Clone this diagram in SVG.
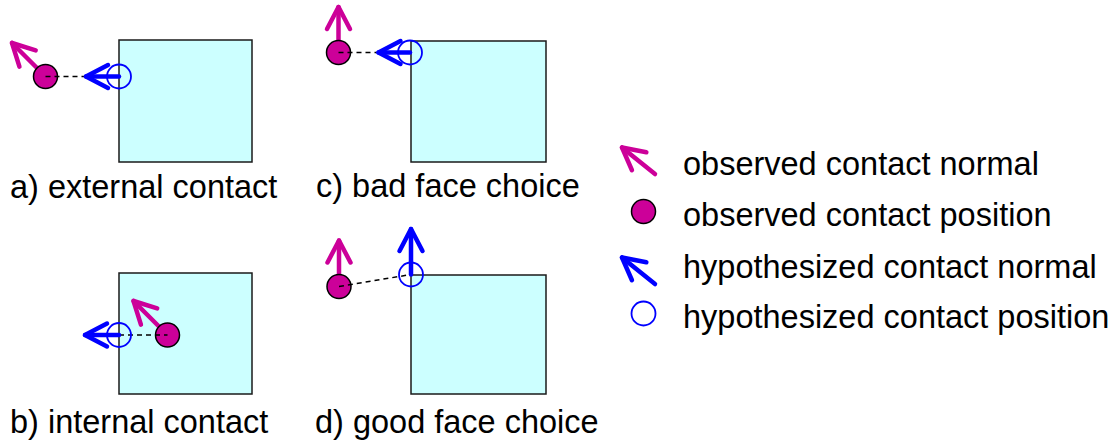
<svg xmlns="http://www.w3.org/2000/svg" width="1114" height="442" viewBox="0 0 1114 442">
  <style>
    .box { fill: #ccffff; stroke: #1a1a1a; stroke-width: 1.5; }
    .obs-n { stroke: #cc0099; stroke-width: 4.5; fill: none; stroke-linecap: round; }
    .hyp-n { stroke: #0000ff; stroke-width: 4.5; fill: none; stroke-linecap: round; }
    .obs-p { fill: #cc0099; stroke: #000; stroke-width: 1.5; }
    .hyp-p { fill: none; stroke: #0000ff; stroke-width: 1.8; }
    .link { stroke: #000; stroke-width: 1.5; stroke-dasharray: 5 4; fill: none; }
    text { font-family: "Liberation Sans", Arial, sans-serif; font-size: 32.5px; fill: #000; }
  </style>
  <defs>
    <marker id="headObs" markerUnits="userSpaceOnUse" markerWidth="40" markerHeight="40" refX="25" refY="15" orient="auto" overflow="visible">
      <path d="M3,3.5 L25,15 L3,26.5" fill="none" stroke="#cc0099" stroke-width="4.5" stroke-linecap="round" stroke-linejoin="round"/>
    </marker>
    <marker id="headHyp" markerUnits="userSpaceOnUse" markerWidth="40" markerHeight="40" refX="25" refY="15" orient="auto" overflow="visible">
      <path d="M3,3.5 L25,15 L3,26.5" fill="none" stroke="#0000ff" stroke-width="4.5" stroke-linecap="round" stroke-linejoin="round"/>
    </marker>
  </defs>

  <!-- a) external contact -->
  <g id="panel-a">
    <rect class="box" x="119" y="40" width="133" height="122"/>
    <line class="obs-n" x1="45.5" y1="76.5" x2="12" y2="43" marker-end="url(#headObs)"/>
    <circle class="obs-p" cx="45.5" cy="76.5" r="12"/>
    <line class="link" x1="45.5" y1="76.5" x2="119" y2="76.5"/>
    <line class="hyp-n" x1="119" y1="76.5" x2="86" y2="76.5" marker-end="url(#headHyp)"/>
    <circle class="hyp-p" cx="119" cy="76.5" r="12"/>
    <text x="10" y="198">a) external contact</text>
  </g>

  <!-- c) bad face choice -->
  <g id="panel-c">
    <rect class="box" x="411" y="41" width="135" height="121"/>
    <line class="obs-n" x1="338.5" y1="52.5" x2="338.5" y2="7" marker-end="url(#headObs)"/>
    <circle class="obs-p" cx="338.5" cy="52.5" r="12"/>
    <line class="link" x1="338.5" y1="52.5" x2="410" y2="52.5"/>
    <line class="hyp-n" x1="410" y1="52.5" x2="378.5" y2="52.5" marker-end="url(#headHyp)"/>
    <circle class="hyp-p" cx="410" cy="52.5" r="12"/>
    <text x="316" y="197">c) bad face choice</text>
  </g>

  <!-- b) internal contact -->
  <g id="panel-b">
    <rect class="box" x="119" y="273" width="133" height="121"/>
    <line class="obs-n" x1="167.5" y1="335" x2="133.5" y2="301" marker-end="url(#headObs)"/>
    <circle class="obs-p" cx="167.5" cy="335" r="12"/>
    <line class="link" x1="119" y1="335" x2="167.5" y2="335"/>
    <line class="hyp-n" x1="119" y1="335" x2="85" y2="335" marker-end="url(#headHyp)"/>
    <circle class="hyp-p" cx="119" cy="335" r="12"/>
    <text x="10" y="433">b) internal contact</text>
  </g>

  <!-- d) good face choice -->
  <g id="panel-d">
    <rect class="box" x="411" y="275" width="135" height="119"/>
    <line class="obs-n" x1="339" y1="286.5" x2="339" y2="240.5" marker-end="url(#headObs)"/>
    <circle class="obs-p" cx="339" cy="286.5" r="12"/>
    <line class="link" x1="339" y1="286.5" x2="411" y2="274.5"/>
    <line class="hyp-n" x1="411" y1="274.5" x2="411" y2="229" marker-end="url(#headHyp)"/>
    <circle class="hyp-p" cx="411" cy="274.5" r="12"/>
    <text x="315" y="433">d) good face choice</text>
  </g>

  <!-- legend -->
  <g id="legend">
    <line class="obs-n" x1="655" y1="174" x2="622" y2="147.5" marker-end="url(#headObs)"/>
    <text x="683" y="175">observed contact normal</text>
    <circle class="obs-p" cx="643.5" cy="211.5" r="12"/>
    <text x="683" y="226">observed contact position</text>
    <line class="hyp-n" x1="655" y1="284" x2="622" y2="257.5" marker-end="url(#headHyp)"/>
    <text x="683" y="278">hypothesized contact normal</text>
    <circle class="hyp-p" cx="643.5" cy="313.5" r="12"/>
    <text x="683" y="328">hypothesized contact position</text>
  </g>
</svg>
